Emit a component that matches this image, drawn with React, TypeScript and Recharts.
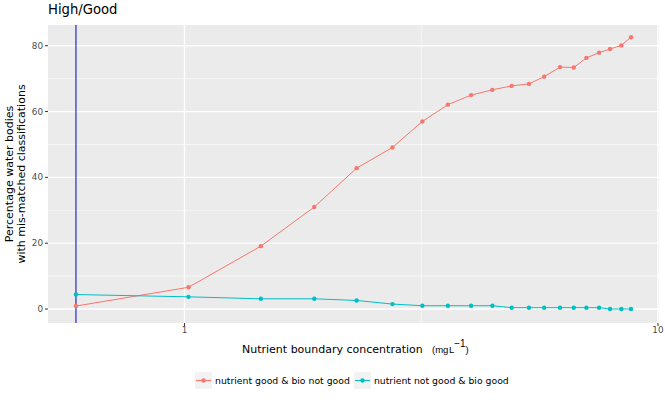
import { CartesianGrid, Line, LineChart, ReferenceLine, XAxis, YAxis } from "recharts";

// boundary concentrations (mg/L)
const concentration = [0.59, 1.02, 1.45, 1.88, 2.31, 2.75, 3.18, 3.6, 4.03, 4.47, 4.91, 5.34, 5.75, 6.21, 6.64, 7.06, 7.51, 7.92, 8.37, 8.77];
// % water bodies, nutrient good & bio not good
const nutGoodBioNot = [0.9, 6.6, 19.1, 31.0, 42.8, 49.1, 57.0, 62.1, 65.0, 66.6, 67.8, 68.4, 70.6, 73.5, 73.4, 76.3, 77.9, 79.0, 80.1, 82.6];
// % water bodies, nutrient not good & bio good
const nutNotBioGood = [4.4, 3.7, 3.1, 3.1, 2.6, 1.5, 1.0, 1.0, 1.0, 1.0, 0.4, 0.4, 0.4, 0.4, 0.4, 0.4, 0.4, 0.0, 0.0, 0.0];

const boundary = 0.59;
const xTicks = [1, 10];
const xMinor = [3.162];
const yTicks = [0, 20, 40, 60, 80];
const yMinor = [10, 30, 50, 70];

const RED = "#F8766D";
const TEAL = "#00BFC4";
const FONT = "'DejaVu Sans', sans-serif";

const data = concentration.map((c, i) => ({
  conc: c,
  a: nutGoodBioNot[i],
  b: nutNotBioGood[i],
}));

function Key({ color }: { color: string }) {
  return (
    <svg width={17} height={17} style={{ display: "block" }}>
      <rect x={0} y={0} width={17} height={17} fill="#F2F2F2" />
      <line x1={1} y1={8.5} x2={16} y2={8.5} stroke={color} strokeWidth={1.1} />
      <circle cx={8.5} cy={8.5} r={2.2} fill={color} />
    </svg>
  );
}

export default function App() {
  return (
    <div style={{ position: "absolute", left: 0, top: 0, width: 665, height: 400, background: "#fff", fontFamily: FONT }}>
      <LineChart
        width={665}
        height={400}
        data={data}
        margin={{ top: 25, right: 6, bottom: 0, left: 0 }}
      >
        {/* PANEL */}
        <CartesianGrid fill="#EBEBEB" stroke="none" horizontal={false} vertical={false} />

        {/* GRID */}
        {yMinor.map((v) => (
          <ReferenceLine key={"ym" + v} y={v} stroke="#fff" strokeWidth={0.6} />
        ))}
        {yTicks.map((v) => (
          <ReferenceLine key={"y" + v} y={v} stroke="#fff" strokeWidth={1.3} />
        ))}
        {xMinor.map((v) => (
          <ReferenceLine key={"xm" + v} x={v} stroke="#fff" strokeWidth={0.6} />
        ))}
        {xTicks.map((v) => (
          <ReferenceLine key={"x" + v} x={v} stroke="#fff" strokeWidth={1.3} />
        ))}

        <XAxis
          dataKey="conc"
          type="number"
          scale="log"
          domain={[0.515, 10.05]}
          allowDataOverflow
          ticks={xTicks}
          height={77}
          axisLine={false}
          tickSize={3}
          tickMargin={1}
          tickLine={{ stroke: "#333" }}
          tick={{ fill: "#4D4D4D", fontSize: 8.8, fontFamily: FONT }}
        />
        <YAxis
          type="number"
          domain={[-4.25, 86.3]}
          allowDataOverflow
          ticks={yTicks}
          width={48}
          axisLine={false}
          tickSize={3}
          tickMargin={2}
          tickLine={{ stroke: "#333" }}
          tick={{ fill: "#4D4D4D", fontSize: 8.8, fontFamily: FONT }}
        />

        <ReferenceLine x={boundary} stroke="#0000D0" strokeWidth={1} />

        <Line
          dataKey="a"
          stroke={RED}
          strokeWidth={1}
          dot={{ r: 2.2, fill: RED, stroke: "none" }}
          activeDot={false}
          isAnimationActive={false}
        />
        <Line
          dataKey="b"
          stroke={TEAL}
          strokeWidth={1}
          dot={{ r: 2.2, fill: TEAL, stroke: "none" }}
          activeDot={false}
          isAnimationActive={false}
        />
      </LineChart>

      {/* TITLES */}
      <svg width={665} height={400} style={{ position: "absolute", left: 0, top: 0, pointerEvents: "none" }}>
        <text x={48} y={14} fontSize={13.2} fill="#000" fontFamily={FONT}>High/Good</text>
        <g transform="translate(13,174) rotate(-90)">
          <text x={0} y={0} textAnchor="middle" fontSize={11} fill="#000" fontFamily={FONT}>Percentage water bodies</text>
        </g>
        <g transform="translate(25,174) rotate(-90)">
          <text x={0} y={0} textAnchor="middle" fontSize={11} fill="#000" fontFamily={FONT}>with mis-matched classifications</text>
        </g>
        <text x={242} y={353} fontSize={11} fill="#000" fontFamily={FONT}>Nutrient boundary concentration</text>
        <text x={432} y={353} fontSize={9.5} fill="#000" fontFamily="'Liberation Sans', sans-serif">
          (mg
          <tspan dx={0.5}>L</tspan>
          <tspan dy={-6} fontSize={10}>−1</tspan>
          <tspan dy={6}>)</tspan>
        </text>
      </svg>

      {/* LEGEND */}
      <div
        style={{
          position: "absolute",
          left: 195,
          top: 372,
          display: "flex",
          alignItems: "center",
          fontSize: 9.3,
          color: "#000",
          fontFamily: FONT,
          whiteSpace: "nowrap",
        }}
      >
        <Key color={RED} />
        <span style={{ marginLeft: 3, marginRight: 4 }}>nutrient good &amp; bio not good</span>
        <Key color={TEAL} />
        <span style={{ marginLeft: 3 }}>nutrient not good &amp; bio good</span>
      </div>
    </div>
  );
}
